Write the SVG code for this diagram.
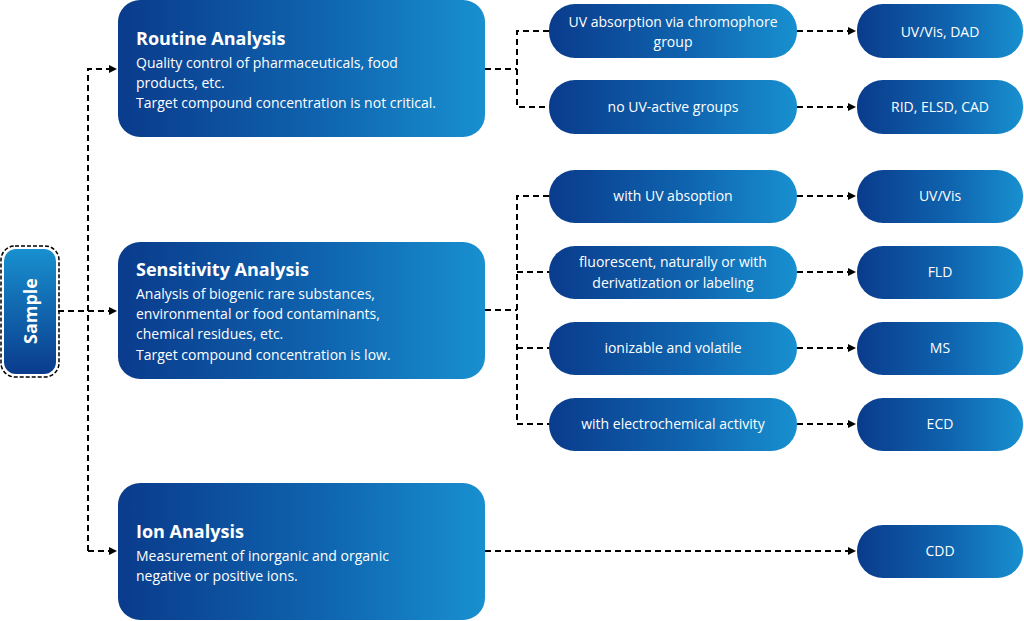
<svg xmlns="http://www.w3.org/2000/svg" width="1024" height="621" viewBox="0 0 1024 621">
<defs>
<linearGradient id="g" x1="0" y1="0" x2="1" y2="0"><stop offset="0" stop-color="#0a3b8c"/><stop offset="0.55" stop-color="#0f63ae"/><stop offset="1" stop-color="#1890cf"/></linearGradient>
<linearGradient id="gv" x1="0" y1="0" x2="0" y2="1"><stop offset="0" stop-color="#1890cf"/><stop offset="1" stop-color="#0a3b8c"/></linearGradient>
<marker id="a" markerWidth="8" markerHeight="8" refX="7" refY="4" orient="auto" markerUnits="userSpaceOnUse"><path d="M0,0 L8,4 L0,8 z" fill="#000"/></marker>
</defs>
<style>
.n{fill:url(#g)}
.t{fill:#fff;font-family:"Open Sans","Liberation Sans",sans-serif;font-size:14px}
.c{text-anchor:middle}
.h{font-weight:bold;font-size:18px}
.l{fill:none;stroke:#000;stroke-width:2;stroke-dasharray:6,4}
</style>
<rect width="1024" height="621" fill="#fff"/>
<g id="connectors">
<path class="l" d="M58,311 H116" marker-end="url(#a)"/>
<path class="l" d="M88,551 V69 H116" marker-end="url(#a)"/>
<path class="l" d="M88,551 H116" marker-end="url(#a)"/>
<path class="l" d="M485,69 H517"/>
<path class="l" d="M549,31 H517 V107 H549"/>
<path class="l" d="M485,310 H517"/>
<path class="l" d="M549,196 H517 V424 H549"/>
<path class="l" d="M517,272 H549 M517,348 H549"/>
<path class="l" d="M797,31 H855" marker-end="url(#a)"/>
<path class="l" d="M797,107 H855" marker-end="url(#a)"/>
<path class="l" d="M797,196 H855" marker-end="url(#a)"/>
<path class="l" d="M797,272 H855" marker-end="url(#a)"/>
<path class="l" d="M797,348 H855" marker-end="url(#a)"/>
<path class="l" d="M797,424 H855" marker-end="url(#a)"/>
<path class="l" d="M485,551 H855" marker-end="url(#a)"/>
</g>
<g id="sample">
<rect x="1" y="246" width="58" height="131" rx="14" fill="none" stroke="#000" stroke-width="1.5" stroke-dasharray="4,2"/>
<rect x="4" y="249" width="52" height="125" rx="12" fill="url(#gv)"/>
<text class="t h c" transform="translate(37,311) rotate(-90)" font-size="18">Sample</text>
</g>
<g id="routine">
<rect class="n" x="118" y="0" width="367" height="137" rx="22"/>
<text class="t h" x="136" y="45">Routine Analysis</text>
<text class="t" x="136" y="68">Quality control of pharmaceuticals, food</text>
<text class="t" x="136" y="88">products, etc.</text>
<text class="t" x="136" y="108">Target compound concentration is not critical.</text>
</g>
<g id="sensitivity">
<rect class="n" x="118" y="242" width="367" height="137" rx="22"/>
<text class="t h" x="136" y="276">Sensitivity Analysis</text>
<text class="t" x="136" y="299">Analysis of biogenic rare substances,</text>
<text class="t" x="136" y="319">environmental or food  contaminants,</text>
<text class="t" x="136" y="339">chemical residues, etc.</text>
<text class="t" x="136" y="360">Target compound concentration is low.</text>
</g>
<g id="ion">
<rect class="n" x="118" y="483" width="367" height="137" rx="22"/>
<text class="t h" x="136" y="538">Ion Analysis</text>
<text class="t" x="136" y="561">Measurement of inorganic and organic</text>
<text class="t" x="136" y="581">negative or positive ions.</text>
</g>
<g id="m1"><rect class="n" x="549" y="4" width="248" height="54" rx="26"/><text class="t c" x="673" y="27">UV absorption via chromophore</text><text class="t c" x="673" y="47">group</text></g>
<g id="m2"><rect class="n" x="549" y="80" width="248" height="54" rx="26"/><text class="t c" x="673" y="112">no UV-active groups</text></g>
<g id="m3"><rect class="n" x="549" y="170" width="248" height="53" rx="26"/><text class="t c" x="673" y="201">with UV absoption</text></g>
<g id="m4"><rect class="n" x="549" y="246" width="248" height="53" rx="26"/><text class="t c" x="673" y="267">fluorescent, naturally or with</text><text class="t c" x="673" y="288">derivatization or labeling</text></g>
<g id="m5"><rect class="n" x="549" y="322" width="248" height="53" rx="26"/><text class="t c" x="673" y="353">ionizable and volatile</text></g>
<g id="m6"><rect class="n" x="549" y="398" width="248" height="53" rx="26"/><text class="t c" x="673" y="429">with electrochemical activity</text></g>
<g id="r1"><rect class="n" x="857" y="4" width="166" height="54" rx="26"/><text class="t c" x="940" y="37">UV/Vis, DAD</text></g>
<g id="r2"><rect class="n" x="857" y="80" width="166" height="54" rx="26"/><text class="t c" x="940" y="112">RID, ELSD, CAD</text></g>
<g id="r3"><rect class="n" x="857" y="170" width="166" height="53" rx="26"/><text class="t c" x="940" y="201">UV/Vis</text></g>
<g id="r4"><rect class="n" x="857" y="246" width="166" height="53" rx="26"/><text class="t c" x="940" y="277">FLD</text></g>
<g id="r5"><rect class="n" x="857" y="322" width="166" height="53" rx="26"/><text class="t c" x="940" y="353">MS</text></g>
<g id="r6"><rect class="n" x="857" y="398" width="166" height="53" rx="26"/><text class="t c" x="940" y="429">ECD</text></g>
<g id="r7"><rect class="n" x="857" y="525" width="166" height="53" rx="26"/><text class="t c" x="940" y="556">CDD</text></g>
</svg>
